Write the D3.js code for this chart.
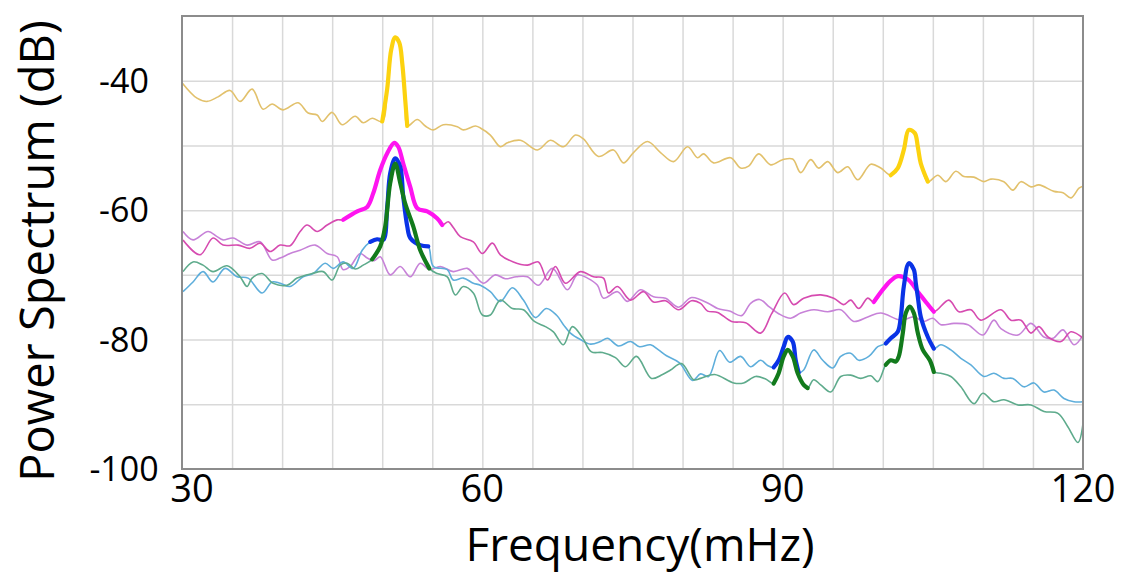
<!DOCTYPE html>
<html>
<head>
<meta charset="utf-8">
<script src="https://cdn.jsdelivr.net/npm/d3@7"></script>
<style>
  body { margin: 0; background: #fff; }
  svg { display: block; }
</style>
</head>
<body>
<script>
// x ticks / y ticks
const xTicks = [30, 60, 90, 120];
const yTicks = [-40, -60, -80, -100];

// thin spectra [frequency mHz, dB] (peak parts are kept in the arrays below)
const goldThin = [[30,-40.3],[31.5,-42.7],[32.5,-43.2],[33.6,-42.5],[34.8,-41.5],[35.8,-43.2],[37,-41.3],[38.1,-44.4],[39,-43.6],[40.1,-44.5],[41.6,-43.4],[42.6,-45],[43.5,-45.3],[44,-46.3],[45,-44.9],[46,-46.8],[47.3,-45.5],[48.1,-46.5],[49,-45.8],
  [53.5,-46],[54.3,-47],[55.1,-47.6],[56.1,-46.8],[57.5,-47.1],[58.1,-47.6],[59.3,-47],[59.8,-47.3],[60.8,-48.4],[61.8,-50.2],[62.5,-49.6],[63.8,-49.2],[65.5,-50.7],[66.8,-49.2],[68.1,-50.2],[69.3,-48.4],[70.1,-49],[71.6,-51.7],[73.1,-50.7],[74.1,-52.7],[75.1,-51.1],[76.5,-49.4],[77.8,-51.1],[79.1,-52.5],[80.5,-50.2],[81.5,-51.9],[82.1,-51.3],[83.1,-52.7],[84.8,-51.9],[85.8,-53.5],[86.6,-53.2],[87.6,-51.3],[88.8,-53],[90,-52.2],[91,-52.1],[91.8,-54.2],[92.8,-52.2],[93.6,-53.5],[94.5,-52.5],[95.5,-54.2],[96.5,-53.3],[97.5,-55.3],[98.8,-52.9],[99.8,-53.5],
  [105.5,-54.6],[106.3,-55.6],[107.3,-54],[108.1,-54.8],[109.1,-54.9],[110.1,-55.6],[110.8,-55.2],[112.1,-55.6],[113,-56.9],[113.8,-55.6],[114.8,-56.4],[115.6,-56.1],[117.1,-57.1],[118,-57.3],[118.8,-58.1],[119.6,-56.6],[120,-56.3]];

const magentaThin = [[30.1,-64.6],[31.8,-66.9],[33.1,-64.3],[34.1,-65.4],[35.6,-65.4],[36.8,-65.9],[37.8,-65.1],[38.8,-66.4],[39.8,-65.4],[40.8,-65.5],[41.8,-63.3],[42.5,-62.3],[43.5,-63.3],[44.5,-62.3],[45.5,-61.5],
  [56.6,-61.8],[57.1,-62.7],[57.8,-64.1],[59.1,-64.9],[60,-66.7],[61,-65.1],[61.8,-66.9],[63.1,-68],[64.5,-68.5],[65.6,-68],[66.5,-70.8],[67.3,-68.7],[68.3,-71.3],[69.8,-69.5],[71.1,-70.3],[72.1,-70.5],[72.6,-72.8],[73.5,-71.8],[74.8,-73.9],[76.1,-72.6],[77.1,-74.2],[78.3,-74],[79.6,-75.4],[80.9,-74],[81.8,-74.4],[82.5,-75.6],[83.5,-75.8],[84.9,-77.2],[86.3,-77.4],[87.8,-79],[88.9,-76],[90.2,-72.8],[91.1,-74.6],[92.1,-73.6],[93.8,-73.1],[95.1,-73.6],[96.1,-74.6],[96.8,-73.9],[97.6,-75.2],[98.5,-73.6],
  [106.6,-73.9],[107.6,-75.7],[108.8,-75.4],[109.8,-77],[111.8,-75.4],[112.8,-77],[113.8,-77],[114.8,-79],[115.6,-78],[116.5,-79.6],[117.8,-80.3],[118.8,-78.8],[120,-79.8]];

const orchidThin = [[30.1,-63.3],[31.1,-64.6],[32.6,-63.3],[33.5,-64.1],[34.1,-64.6],[35.1,-64.3],[36.5,-65.4],[37.8,-64.9],[39,-67.7],[39.8,-67.4],[40.8,-66.7],[41.8,-66.2],[43.3,-65.4],[44.5,-66.7],[45.5,-67.2],[46.1,-69.2],[46.8,-68.7],[47.8,-66.7],[48.5,-67.4],[49.2,-67.8],[49.8,-67.2],[50.8,-70],[51.8,-68.7],[52.8,-70.3],[53.8,-68.2],[54.7,-69.2],[55.8,-68.7],[57.1,-69.5],[58.5,-69],[59.2,-70],[60.1,-71.3],[61.3,-70],[62.3,-70.6],[63.4,-70.3],[64.5,-70.3],[65.6,-71.6],[67,-69],[68.5,-72.3],[69.5,-70],[70.5,-70.5],[71.5,-71.6],[72.1,-73.6],[73.5,-72.6],[74.5,-74.1],[75.8,-72.3],[77.1,-73.4],[78.3,-73.6],[79.6,-75],[80.9,-73.5],[82.7,-74.5],[83.5,-75.2],[84.7,-75.6],[85.9,-76.3],[86.8,-74.4],[87.7,-73.8],[88.7,-75],[89.6,-76],[90.8,-76.7],[91.8,-75.9],[93.1,-75.4],[94.5,-75.7],[95.8,-75.4],[97.1,-77.2],[98.5,-76.5],[99.8,-75.9],[101.8,-77],[103.1,-76.5],[104.1,-77.2],[105,-76.7],[105.8,-77.7],[107.1,-77.5],[108.5,-77.7],[110,-79.3],[111.1,-77],[111.8,-78.3],[113.5,-79.3],[114.8,-77.5],[116.1,-79.6],[117,-79.8],[118,-78.5],[119.1,-80.8],[120,-79.3]];

const blueThin = [[30.1,-72.6],[31.1,-71.1],[32.1,-69.5],[33.1,-71.1],[34.3,-69],[35.5,-70.3],[36.6,-70.5],[38,-72.8],[39,-71.1],[39.8,-71.3],[40.8,-71.8],[42.1,-70.3],[43.1,-69.8],[44.3,-68.2],[45.1,-69],[46.1,-68],[47.1,-69],[48,-66.2],
  [55.1,-68.7],[56.5,-69.2],[57.1,-70.8],[58.1,-70.5],[59.1,-71.3],[59.8,-71.6],[60.8,-72.6],[61.8,-74.1],[63,-72],[64.1,-73.9],[65.3,-76.6],[66.4,-75.2],[67.4,-76.2],[68.1,-77.7],[68.8,-79],[69.8,-80],[70.8,-80.7],[71.8,-80.3],[72.5,-79.8],[73.6,-81],[74.8,-80.3],[75.7,-81.1],[76.8,-80.8],[77.6,-81.6],[78.4,-82.5],[79.7,-83.6],[81,-86.3],[81.8,-85.3],[82.6,-85.7],[83.7,-81.7],[84.7,-83.5],[85.8,-82.6],[86.8,-84.2],[87.8,-83.2],[88.5,-84],
  [92.1,-84.7],[93.1,-81.6],[94,-83.2],[95,-84.4],[95.8,-82.6],[96.8,-82.1],[97.6,-83.2],[98.6,-82.6],[99.5,-81.1],
  [105.8,-80.8],[106.8,-81.6],[107.8,-82.9],[108.8,-83.9],[110.1,-85.7],[111.1,-85.2],[112.1,-86],[113,-86],[114.1,-87.3],[115.1,-86.7],[116.1,-88.1],[117.1,-87.8],[118.1,-89.1],[119.1,-89.6],[120,-89.6]];

const tealThin = [[30.1,-69.5],[31.1,-68],[32.1,-68.5],[33.1,-69.5],[34.5,-68.6],[35.8,-70.3],[36.5,-71.8],[37,-70.5],[38,-69.8],[39.1,-71.3],[40.5,-71.6],[41.5,-70.5],[43,-69.8],[44.1,-69.5],[45,-70.8],[45.8,-68.5],[46.5,-68.2],[47.3,-69.1],[48.1,-68.5],
  [55.5,-69.8],[56.5,-70.3],[57.3,-73.1],[58.1,-71.8],[59.1,-72.8],[60,-76.2],[60.8,-76.2],[61.8,-73.9],[63,-75.2],[64.1,-75.4],[65.2,-77.2],[66.3,-78],[67.1,-78.8],[68.1,-80.8],[69,-78],[70,-79.7],[70.9,-81.9],[72,-82],[73.3,-82.8],[74.3,-84.2],[75.4,-82.6],[76.9,-86],[78,-85.4],[78.8,-84.7],[79.9,-83.7],[81.1,-86.2],[81.8,-86],[83.2,-85.4],[85.1,-86.7],[86.1,-86.7],[87.3,-85.7],[88.3,-86.1],
  [93.1,-86.2],[93.8,-87],[94.8,-88.1],[95.8,-85.7],[96.8,-85.5],[97.8,-86],[98.8,-85.6],[99.5,-86.5],
  [105.8,-85.2],[106.8,-85.7],[107.8,-87.3],[109.1,-89.9],[110,-88.3],[111.1,-89.6],[112.1,-89.3],[113.5,-90.1],[114.8,-90.1],[116.1,-91.1],[117.5,-91.4],[118.5,-93.5],[119.5,-95.9],[120,-93]];

// thick highlighted peaks
const goldPeaks = [
  [[50,-46.3],[50.5,-41.2],[50.9,-35.2],[51.3,-33.3],[51.7,-34.1],[52,-37.3],[52.3,-43],[52.5,-47]],
  [[100.8,-54.6],[101.5,-53.5],[102.1,-50.7],[102.6,-47.6],[103.2,-48.1],[103.5,-50.2],[103.8,-52.8],[104.5,-55.6]]
];
const magentaPeaks = [
  [[46.1,-61.5],[47.5,-60.2],[48.5,-59.5],[49.1,-57.4],[49.8,-53.8],[50.5,-51.2],[51.2,-49.6],[51.6,-50.2],[52.1,-52.8],[52.8,-56.4],[53.5,-59.7],[54.5,-60.2],[55.5,-61.3],[56,-62.3]],
  [[99.1,-74.2],[100.1,-72.1],[100.8,-70.9],[101.5,-70.2],[102.5,-70.7],[103.5,-72.6],[104.3,-74.2],[105.1,-75.7]]
];
const bluePeaks = [
  [[48.8,-64.9],[49.5,-64.5],[50.1,-64.6],[50.5,-59.5],[50.8,-54.3],[51.3,-52],[51.8,-53.3],[52.1,-57.9],[52.5,-62.5],[52.8,-64.3],[53.8,-65.4],[54.6,-65.6]],
  [[89.1,-84.3],[89.6,-83.2],[90.1,-81.1],[90.5,-79.6],[91,-80.3],[91.3,-83.2],[91.6,-85.1]],
  [[100.3,-80.6],[100.8,-79.8],[101.5,-78.8],[101.8,-76.5],[102.1,-71.8],[102.6,-68.2],[103.1,-69.2],[103.3,-71.3],[103.5,-73.4],[103.8,-76.5],[104.5,-79.6],[105.1,-81.4]]
];
const greenPeaks = [
  [[49,-67.6],[49.8,-65.6],[50.3,-62.5],[50.8,-55.8],[51.3,-52.8],[51.8,-55.8],[52.3,-59],[53.1,-62.5],[53.8,-66.2],[54.7,-69]],
  [[89.1,-86.8],[89.6,-85.2],[90.1,-82.6],[90.5,-81.6],[91,-82.6],[91.5,-85.2],[92.1,-87],[92.5,-87.5]],
  [[100.3,-83.9],[100.8,-83.2],[101.3,-83.4],[101.6,-82.6],[102,-79],[102.3,-75.9],[102.7,-74.9],[103.1,-75.9],[103.5,-79],[104,-81.6],[104.7,-83.2],[105.1,-85]]
];

const W = 1121, H = 574;
const margin = { top: 16, right: 38, bottom: 105, left: 182 };
const width = W - margin.left - margin.right;
const height = H - margin.top - margin.bottom;

const svg = d3.select('body').append('svg')
  .attr('width', W)
  .attr('height', H);

const g = svg.append('g')
  .attr('transform', `translate(${margin.left},${margin.top})`);

const x = d3.scaleLinear().domain([30, 120]).range([0, width]);
const y = d3.scaleLinear().domain([-100, -30]).range([height, 0]);

// grid
g.append('g')
  .call(d3.axisBottom(x).tickValues(d3.range(35, 120, 5)).tickSize(height).tickFormat(''))
  .call(a => a.select('.domain').remove())
  .selectAll('line').attr('stroke', '#d9d9d9').attr('stroke-width', 1.5);

g.append('g')
  .call(d3.axisLeft(y).tickValues(d3.range(-90, -30, 10)).tickSize(-width).tickFormat(''))
  .call(a => a.select('.domain').remove())
  .selectAll('line').attr('stroke', '#d9d9d9').attr('stroke-width', 1.5);

// merges thin part and its peaks into one sorted trace
const full = (thin, peaks) => thin.concat(...peaks).sort((a, b) => a[0] - b[0]);

const line = d3.line()
  .x(d => x(d[0]))
  .y(d => y(d[1]))
  .curve(d3.curveCatmullRom.alpha(0.5));

const plot = g.append('g');

const thin = [
  { data: full(goldThin, goldPeaks), color: '#e2c16c' },
  { data: orchidThin, color: '#c782d8' },
  { data: full(magentaThin, magentaPeaks), color: '#d64bb0' },
  { data: full(blueThin, bluePeaks), color: '#5eaedb' },
  { data: full(tealThin, greenPeaks), color: '#5eab8c' }
];

plot.selectAll('.thin')
  .data(thin)
  .enter()
  .append('path')
  .attr('class', 'thin')
  .attr('fill', 'none')
  .attr('stroke', d => d.color)
  .attr('stroke-width', 1.6)
  .attr('d', d => line(d.data));

const thick = [
  ...goldPeaks.map(p => ({ data: p, color: '#fcd20f' })),
  ...magentaPeaks.map(p => ({ data: p, color: '#ff14f0' })),
  ...bluePeaks.map(p => ({ data: p, color: '#0a33e6' })),
  ...greenPeaks.map(p => ({ data: p, color: '#127a1c' }))
];

plot.selectAll('.thick')
  .data(thick)
  .enter()
  .append('path')
  .attr('class', 'thick')
  .attr('fill', 'none')
  .attr('stroke', d => d.color)
  .attr('stroke-width', 4.2)
  .attr('stroke-linejoin', 'round')
  .attr('stroke-linecap', 'round')
  .attr('d', d => line(d.data));

// frame
g.append('rect')
  .attr('width', width)
  .attr('height', height)
  .attr('fill', 'none')
  .attr('stroke', '#8c8c8c')
  .attr('stroke-width', 2);

// tick labels
g.selectAll('.ylab')
  .data(yTicks)
  .enter()
  .append('text')
  .attr('class', 'ylab')
  .attr('x', -58)
  .attr('y', d => y(d))
  .attr('dy', '0.36em')
  .attr('text-anchor', 'middle')
  .style('font-family', '"Open Sans", sans-serif')
  .style('font-size', '34px')
  .text(d => d);

g.selectAll('.xlab')
  .data(xTicks)
  .enter()
  .append('text')
  .attr('class', 'xlab')
  .attr('x', d => x(d) + (d === 30 ? 10 : 0))
  .attr('y', height + 33)
  .attr('text-anchor', 'middle')
  .style('font-family', '"Open Sans", sans-serif')
  .style('font-size', '38px')
  .text(d => d);

// axis titles
svg.append('text')
  .attr('x', 640)
  .attr('y', 561)
  .attr('text-anchor', 'middle')
  .style('font-family', '"Open Sans", sans-serif')
  .style('font-size', '46px')
  .text('Frequency(mHz)');

svg.append('text')
  .attr('transform', 'translate(54,251) rotate(-90)')
  .attr('text-anchor', 'middle')
  .style('font-family', '"Open Sans", sans-serif')
  .style('font-size', '47px')
  .text('Power Spectrum (dB)');
</script>
</body>
</html>
